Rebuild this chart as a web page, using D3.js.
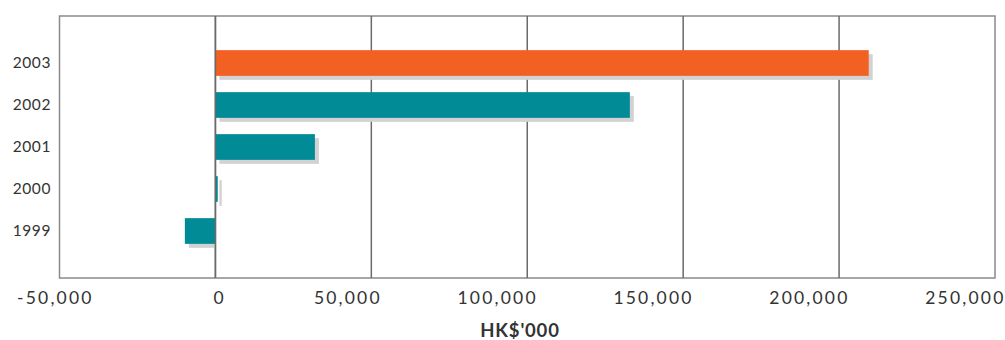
<!DOCTYPE html>
<html>
<head>
<meta charset="utf-8">
<script src="https://cdn.jsdelivr.net/npm/d3@7"></script>
<style>
  html, body { margin: 0; padding: 0; background: #fff; }
  svg { display: block; }
  text { font-family: "Lato", "Open Sans", sans-serif; fill: #333; }
</style>
</head>
<body>
<div id="chart"></div>
<script>
// Annual results, HK$'000
const years = ["2003", "2002", "2001", "2000", "1999"];
const values = [209500, 132900, 31900, 750, -9800];
const highlightYear = "2003";
const xTicks = [-50000, 0, 50000, 100000, 150000, 200000, 250000];
const xTitle = "HK$'000";

const W = 1005, H = 340;
const plot = { left: 59.5, right: 995, top: 16, bottom: 278 };

const svg = d3.select("#chart").append("svg")
  .attr("width", W).attr("height", H);

const x = d3.scaleLinear().domain([-50000, 250000]).range([plot.left, plot.right]);
const y = d3.scaleBand().domain(years).range([plot.top, plot.bottom])
  .paddingInner(0.388).paddingOuter(0.813);

// frame
svg.append("rect")
  .attr("x", plot.left).attr("y", plot.top)
  .attr("width", plot.right - plot.left).attr("height", plot.bottom - plot.top)
  .attr("fill", "none").attr("stroke", "#8a8a8a").attr("stroke-width", 1.5);

// vertical grid lines
svg.append("g").selectAll("line")
  .data(xTicks.filter(t => t > -50000 && t < 250000))
  .join("line")
  .attr("x1", d => x(d)).attr("x2", d => x(d))
  .attr("y1", plot.top).attr("y2", plot.bottom)
  .attr("stroke", "#6a6a6a").attr("stroke-width", 1.5);

const data = years.map((yr, i) => ({ year: yr, value: values[i] }));
const off = 4;

// drop shadows
svg.append("g").selectAll("rect")
  .data(data).join("rect")
  .attr("x", d => Math.min(x(0), x(d.value)) + off)
  .attr("y", d => y(d.year) + off)
  .attr("width", d => d.value >= 0 ? Math.abs(x(d.value) - x(0)) : Math.abs(x(d.value) - x(0)) - off)
  .attr("height", y.bandwidth())
  .attr("fill", "#d2d2d2");

// bars
svg.append("g").selectAll("rect")
  .data(data).join("rect")
  .attr("x", d => Math.min(x(0), x(d.value)))
  .attr("y", d => y(d.year))
  .attr("width", d => Math.abs(x(d.value) - x(0)))
  .attr("height", y.bandwidth())
  .attr("fill", d => d.year === highlightYear ? "#f26122" : "#008b96");

// zero line drawn over bars
svg.append("line")
  .attr("x1", x(0)).attr("x2", x(0))
  .attr("y1", plot.top).attr("y2", plot.bottom)
  .attr("stroke", "#6a6a6a").attr("stroke-width", 1.5);

// x axis labels: right-aligned just past each grid line, kept inside the page
const fmt = d3.formatLocale({ decimal: ".", thousands: ",", grouping: [3], currency: ["", ""], minus: "-" }).format(",");
const xAxis = d3.axisBottom(x).tickValues(xTicks)
  .tickFormat(fmt).tickSize(0).tickPadding(0);
const gx = svg.append("g").attr("transform", `translate(0,${plot.bottom})`).call(xAxis);
gx.select(".domain").remove();
gx.selectAll(".tick").attr("transform", null);
gx.selectAll("text")
  .attr("dy", null).attr("y", 26)
  .attr("text-anchor", "end")
  .style("font-size", "17.5px").style("fill", "#333")
  .style("letter-spacing", "2.2px")
  .style("font-family", "Lato, 'Open Sans', sans-serif")
  .each(function (d) {
    const t = d3.select(this);
    const len = this.getComputedTextLength();
    let right = x(d) + 10.5;
    if (right - len < 17) right = 17 + len;
    t.attr("x", right);
  });

// y axis labels
const yAxis = d3.axisLeft(y).tickSize(0).tickPadding(0);
const gy = svg.append("g").attr("transform", `translate(51,0)`).call(yAxis);
gy.select(".domain").remove();
gy.selectAll("text")
  .attr("dy", "0.35em")
  .style("font-size", "15.5px").style("fill", "#333")
  .style("letter-spacing", "0.6px")
  .style("font-family", "Lato, 'Open Sans', sans-serif");

// axis title
svg.append("text")
  .attr("x", 520).attr("y", 336.5)
  .attr("text-anchor", "middle")
  .style("font-size", "18.5px").style("font-weight", "bold")
  .style("letter-spacing", "0.8px")
  .text(xTitle);
</script>
</body>
</html>
